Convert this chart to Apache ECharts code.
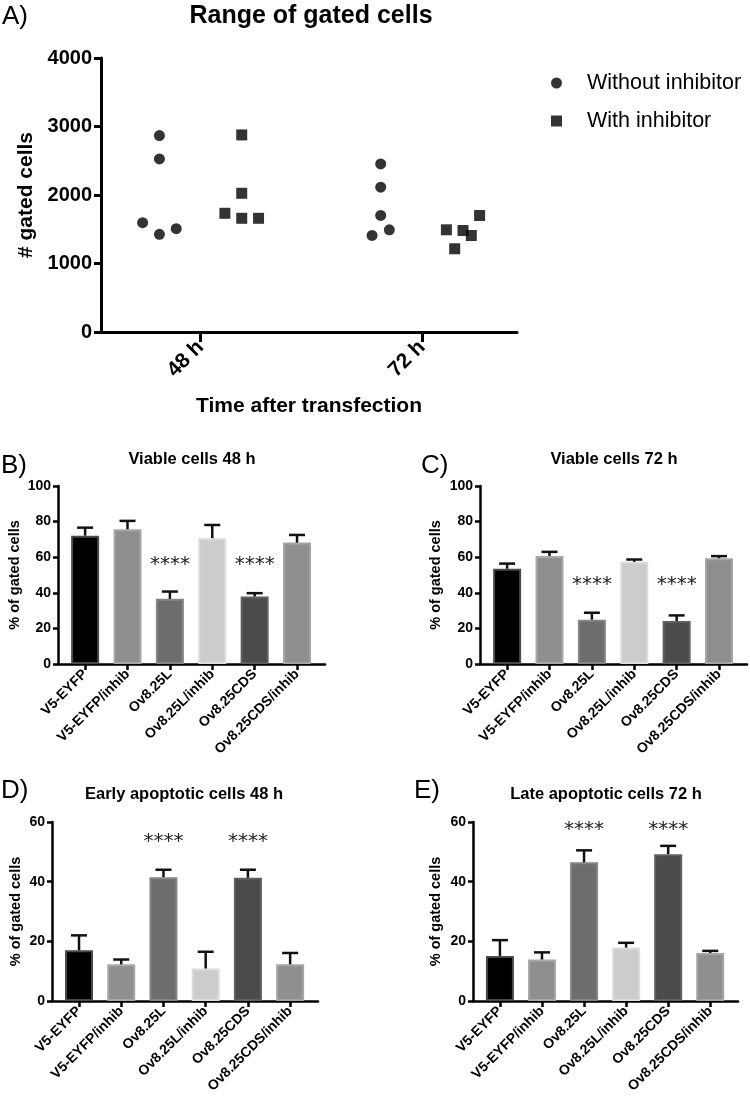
<!DOCTYPE html>
<html><head><meta charset="utf-8">
<script src="https://cdn.jsdelivr.net/npm/echarts@6/dist/echarts.min.js"></script>
<style>html,body{margin:0;padding:0;background:#fff}#c{width:750px;height:1096px}</style>
</head><body><div id="c"></div>
<script>
// ---- Panel A data ----
const timeLabels = ['48 h', '72 h'];
const without48 = [2868, 2527, 1596, 1426, 1508];
const with48 = [2877, 2025, 1733, 1660, 1660];
const without72 = [2454, 2114, 1701, 1409, 1492];
const with72 = [1492, 1215, 1482, 1409, 1701];

// ---- Bar panels data ----
const groups = ['V5-EYFP', 'V5-EYFP/inhib', 'Ov8.25L', 'Ov8.25L/inhib', 'Ov8.25CDS', 'Ov8.25CDS/inhib'];
const viable48Mean = [72.1, 75.7, 36.6, 70.7, 37.9, 68.2];
const viable48Err = [4.5, 4.7, 4.1, 7.4, 1.9, 4.3];
const viable72Mean = [53.5, 60.7, 24.9, 57.4, 24.1, 59.4];
const viable72Err = [2.9, 2.3, 3.9, 1.3, 3.2, 1.2];
const early48Mean = [17.0, 12.3, 41.5, 10.9, 41.3, 12.3];
const early48Err = [5.0, 1.6, 2.5, 5.6, 2.7, 3.8];
const late72Mean = [15.1, 13.9, 46.5, 17.9, 49.2, 16.1];
const late72Err = [5.3, 2.4, 4.0, 1.6, 2.8, 0.7];
const sigText = '****';
const sigGroups = [2, 4];
const sigViable48 = 55.6;
const sigViable72 = 44.4;
const sigEarly48 = 53.4;
const sigLate72 = 57.3;

// ---- layout / style (not data) ----
const groupOffset = 0.186;
const jitterWithout48 = [0, 0, -0.076, 0, 0.076];
const jitterWith48 = [0, 0, -0.076, 0, 0.076];
const jitterWithout72 = [0, 0, 0, -0.039, 0.039];
const jitterWith72 = [-0.075, -0.0375, 0, 0.0375, 0.075];
const barFill = ['#000000', '#8f8f8f', '#6d6d6d', '#cccccc', '#4b4b4b', '#8f8f8f'];
const barBorder = ['#4a4a4a', '#a8a8a8', '#858585', '#dcdcdc', '#5f5f5f', '#a5a5a5'];
const FF = '"Liberation Sans", Arial, sans-serif';

const chart = echarts.init(document.getElementById('c'));

const grids = [
  {left: 101, top: 58, width: 416, height: 274},
  {left: 58, top: 486, width: 267, height: 178},
  {left: 480, top: 486, width: 267, height: 178},
  {left: 52, top: 822, width: 266, height: 179},
  {left: 473, top: 822, width: 265, height: 179}
].map(g => Object.assign({containLabel: false, outerBoundsMode: 'none'}, g));

const idx6 = [0, 1, 2, 3, 4, 5];

function barXAxis(gi) {
  return {
    gridIndex: gi, type: 'value', min: -0.64, max: 5.66,
    axisLine: {show: true, onZero: false, lineStyle: {color: '#000', width: 2.5}},
    axisTick: {show: true, customValues: idx6, length: 6, lineStyle: {color: '#000', width: 2.5}},
    axisLabel: {customValues: idx6, formatter: v => groups[Math.round(v)], rotate: 45, fontSize: 14,
      fontWeight: 'bold', color: '#000', fontFamily: FF, margin: 8},
    splitLine: {show: false}
  };
}
function barYAxis(gi, max, interval, gap) {
  return {
    gridIndex: gi, type: 'value', min: 0, max: max, interval: interval,
    axisLine: {show: true, onZero: false, lineStyle: {color: '#000', width: 2.5}},
    axisTick: {show: true, length: 5, lineStyle: {color: '#000', width: 2.5}},
    axisLabel: {fontSize: 14, fontWeight: 'bold', color: '#000', fontFamily: FF, margin: 7},
    splitLine: {show: false},
    name: '% of gated cells', nameLocation: 'middle', nameGap: gap,
    nameTextStyle: {fontSize: 14.5, fontWeight: 'bold', color: '#000', fontFamily: FF}
  };
}
function barSeries(gi, means, errs, sigLevel) {
  return [
    {
      type: 'bar', xAxisIndex: gi, yAxisIndex: gi, barWidth: 28, silent: true,
      data: means.map((m, i) => ({value: [i, m], itemStyle: {color: barFill[i], borderColor: barBorder[i], borderWidth: 2}}))
    },
    {
      type: 'custom', xAxisIndex: gi, yAxisIndex: gi, silent: true, z: 5,
      encode: {x: 0, y: [1, 2]},
      data: means.map((m, i) => [i, m, m + errs[i]]),
      renderItem: (params, api) => {
        const p0 = api.coord([api.value(0), api.value(1)]);
        const p1 = api.coord([api.value(0), api.value(2)]);
        return {type: 'group', children: [
          {type: 'line', shape: {x1: p0[0], y1: p0[1], x2: p1[0], y2: p1[1]}, style: {stroke: '#111', lineWidth: 2.5}},
          {type: 'line', shape: {x1: p1[0] - 8, y1: p1[1], x2: p1[0] + 8, y2: p1[1]}, style: {stroke: '#111', lineWidth: 2.5}}
        ]};
      }
    },
    {
      type: 'custom', xAxisIndex: gi, yAxisIndex: gi, silent: true, z: 6,
      encode: {x: 0, y: 1},
      data: sigGroups.map(g => [g, sigLevel]),
      renderItem: (params, api) => {
        const p = api.coord([api.value(0), api.value(1)]);
        return {type: 'text', x: p[0], y: p[1], style: {text: sigText, fill: '#222',
          font: '20px "DejaVu Sans"', align: 'center', verticalAlign: 'middle'}};
      }
    }
  ];
}

function pts(vals, center, jit) { return vals.map((v, i) => [center + jit[i], v]); }

const txt = (x, y, text, font, align) => ({type: 'text', x: x, y: y, silent: true,
  style: {text: text, font: font, fill: '#000', align: align || 'center', verticalAlign: 'middle'}});
const ttl = (text, left, top, size, weight, align) => ({text: text, left: left, top: top, padding: 0,
  textAlign: align, textStyle: {fontSize: size, fontWeight: weight, fontFamily: FF, color: '#000'}});

chart.setOption({
  animation: false,
  title: [
    ttl('A)', 2, 4, 26, 'normal', 'left'),
    ttl('B)', 1, 453, 26, 'normal', 'left'),
    ttl('Viable cells 48 h', 192, 451, 16.5, 'bold', 'center'),
    ttl('C)', 421, 453, 26, 'normal', 'left'),
    ttl('Viable cells 72 h', 614, 451, 16.5, 'bold', 'center'),
    ttl('D)', 1, 778, 26, 'normal', 'left'),
    ttl('Early apoptotic cells 48 h', 184, 786, 16.5, 'bold', 'center'),
    ttl('E)', 414, 778, 26, 'normal', 'left'),
    ttl('Late apoptotic cells 72 h', 606, 786, 16.5, 'bold', 'center')
  ],
  grid: grids,
  legend: {
    data: ['Without inhibitor', 'With inhibitor'], orient: 'vertical', left: 546, top: 67,
    itemWidth: 11, itemHeight: 11, itemGap: 16,
    textStyle: {fontSize: 21.5, color: '#000', fontFamily: FF, padding: [0, 0, 0, 20]}
  },
  xAxis: [
    {
      gridIndex: 0, type: 'value', min: 0.55, max: 2.43,
      axisLine: {show: true, onZero: false, lineStyle: {color: '#000', width: 3}},
      axisTick: {show: true, customValues: [1, 2], length: 10, lineStyle: {color: '#000', width: 3}},
      axisLabel: {customValues: [1, 2], formatter: v => timeLabels[Math.round(v) - 1], rotate: 45,
        fontSize: 21, fontWeight: 'bold', color: '#000', fontFamily: FF, margin: 12},
      splitLine: {show: false},
      name: 'Time after transfection', nameLocation: 'middle', nameGap: 64,
      nameTextStyle: {fontSize: 21, fontWeight: 'bold', color: '#000', fontFamily: FF}
    },
    barXAxis(1), barXAxis(2), barXAxis(3), barXAxis(4)
  ],
  yAxis: [
    {
      gridIndex: 0, type: 'value', min: 0, max: 4000, interval: 1000,
      axisLine: {show: true, onZero: false, lineStyle: {color: '#000', width: 3}},
      axisTick: {show: true, length: 7, lineStyle: {color: '#000', width: 3}},
      axisLabel: {fontSize: 20, fontWeight: 'bold', color: '#000', fontFamily: FF, margin: 9,
        formatter: v => String(v)},
      splitLine: {show: false},
      name: '# gated cells', nameLocation: 'middle', nameGap: 64,
      nameTextStyle: {fontSize: 21, fontWeight: 'bold', color: '#000', fontFamily: FF}
    },
    barYAxis(1, 100, 20, 36), barYAxis(2, 100, 20, 37), barYAxis(3, 60, 20, 29), barYAxis(4, 60, 20, 30)
  ],
  series: [
    {
      name: 'Without inhibitor', type: 'scatter', xAxisIndex: 0, yAxisIndex: 0, symbol: 'circle', symbolSize: 11,
      itemStyle: {color: '#000'}, silent: true,
      data: pts(without48, 1 - groupOffset, jitterWithout48).concat(pts(without72, 2 - groupOffset, jitterWithout72))
    },
    {
      name: 'With inhibitor', type: 'scatter', xAxisIndex: 0, yAxisIndex: 0, symbol: 'rect', symbolSize: 11,
      itemStyle: {color: '#000'}, silent: true,
      data: pts(with48, 1 + groupOffset, jitterWith48).concat(pts(with72, 2 + groupOffset, jitterWith72))
    }
  ].concat(
    barSeries(1, viable48Mean, viable48Err, sigViable48),
    barSeries(2, viable72Mean, viable72Err, sigViable72),
    barSeries(3, early48Mean, early48Err, sigEarly48),
    barSeries(4, late72Mean, late72Err, sigLate72)
  ),
  graphic: [
    txt(311, 16, 'Range of gated cells', 'bold 25px ' + FF)
  ]
});
// settle text layout right away (keeps the axis label styles as configured)
chart.getZr().storage.getDisplayList(true).forEach(el => {
  if (el.style && typeof el.style.text === 'string' && el.getBoundingRect) el.getBoundingRect();
});
</script></body></html>
